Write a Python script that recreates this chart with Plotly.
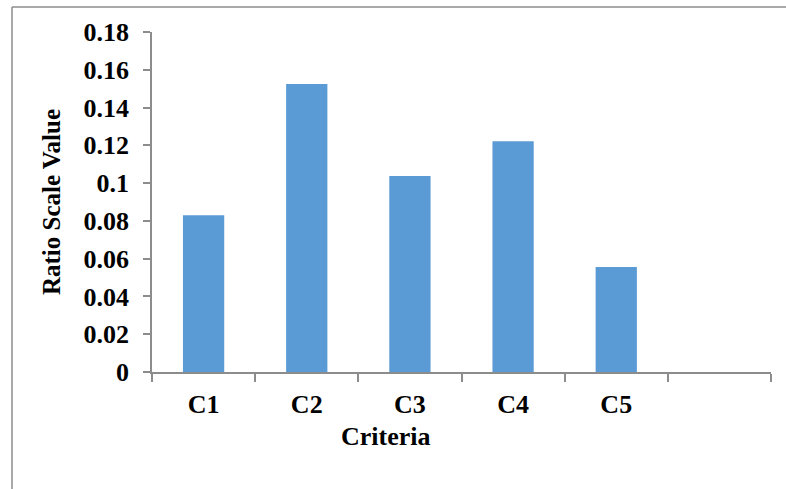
import plotly.graph_objects as go

categories = ["C1", "C2", "C3", "C4", "C5"]
values = [0.083, 0.1525, 0.1038, 0.1222, 0.0556]
all_slots = categories + [" "]
y_ticks = [0, 0.02, 0.04, 0.06, 0.08, 0.1, 0.12, 0.14, 0.16, 0.18]
y_tick_text = ["0", "0.02", "0.04", "0.06", "0.08", "0.1", "0.12", "0.14", "0.16", "0.18"]

FONT = "Liberation Serif"
AX = "#8c8c8c"

fig = go.Figure()
fig.add_trace(go.Bar(x=categories, y=values, marker=dict(color="#5b9bd5", line=dict(width=0)),
                     width=0.4, showlegend=False))

L, R, T, B = 152, 15, 32, 117
W, H = 786, 489
pw, ph = W - L - R, H - T - B

fig.update_layout(
    width=W, height=H,
    margin=dict(l=L, r=R, t=T, b=B, pad=0),
    paper_bgcolor="white", plot_bgcolor="white",
    font=dict(family=FONT, color="black"),
    bargap=0.6,
    xaxis=dict(
        type="category", categoryorder="array", categoryarray=all_slots,
        range=[-0.5, 5.5], tickson="boundaries",
        showline=True, linecolor=AX, linewidth=1.5,
        ticks="outside", ticklen=8, tickcolor=AX, tickwidth=1.5,
        ticklabelstandoff=8,
        showgrid=False, zeroline=False,
        tickfont=dict(family=FONT, size=26, color="black", weight="bold"),
    ),
    yaxis=dict(
        range=[0, 0.18], tickvals=y_ticks, ticktext=y_tick_text,
        showline=True, linecolor=AX, linewidth=1.5,
        ticks="outside", ticklen=7, tickcolor=AX, tickwidth=1.5,
        ticklabelstandoff=9,
        showgrid=False, zeroline=False,
        tickfont=dict(family=FONT, size=26, color="black", weight="bold"),
        title=dict(text="<b>Ratio Scale Value</b>", font=dict(family=FONT, size=25, color="black"), standoff=16),
    ),
)

# x-axis title (offset left of plot centre, as in the original)
fig.add_annotation(text="<b>Criteria</b>", xref="paper", yref="paper",
                   x=(386 - L) / pw, y=(372 - 436) / ph, xanchor="center", yanchor="middle",
                   showarrow=False, font=dict(family=FONT, size=26, color="black"))

# outer chart-area border (left and top edges visible in the crop)
bx = (12 - L) / pw
by = 1 + (T - 7) / ph
fig.add_shape(type="line", xref="paper", yref="paper", x0=bx, x1=1.2, y0=by, y1=by,
              line=dict(color=AX, width=1.5))
fig.add_shape(type="line", xref="paper", yref="paper", x0=bx, x1=bx, y0=by, y1=-0.5,
              line=dict(color=AX, width=1.5))

fig.write_html("out.html", config={"displayModeBar": False},
               post_script="document.body.style.margin='0';")
